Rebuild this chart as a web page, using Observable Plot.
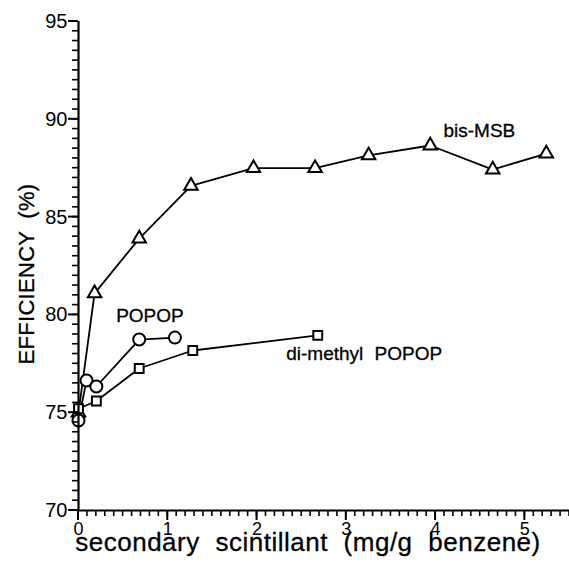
<!DOCTYPE html>
<html><head><meta charset="utf-8">
<script src="https://cdn.jsdelivr.net/npm/d3@7"></script>
<script src="https://cdn.jsdelivr.net/npm/@observablehq/plot@0.6"></script>
<style>
body{margin:0;background:#fff;color:#000}
#chart svg{font-family:"Liberation Sans",Arial,sans-serif;color:#000}
</style>
</head><body><div id="chart"></div>
<script>
const bisX = [0, 0.18, 0.68, 1.26, 1.96, 2.65, 3.25, 3.94, 4.64, 5.24];
const bisY = [75.0, 81.1, 83.9, 86.6, 87.5, 87.5, 88.15, 88.66, 87.43, 88.25];
const popX = [0, 0.09, 0.2, 0.68, 1.08];
const popY = [74.6, 76.65, 76.34, 78.74, 78.84];
const dmX = [0, 0.2, 0.68, 1.28, 2.68];
const dmY = [75.2, 75.6, 77.26, 78.18, 78.95];
const seriesLabels = ["bis-MSB", "POPOP", "di-methyl POPOP"];
const labelX = [4.49, 0.8, 3.2];
const labelY = [89.43, 79.97, 78.03];
const xMajor = [0, 1, 2, 3, 4, 5];
const yMajor = [70, 75, 80, 85, 90, 95];
const xTitle = "secondary scintillant (mg/g benzene)";
const yTitle = "EFFICIENCY (%)";

const mk = (xs, ys) => xs.map((x, i) => ({x, y: ys[i]}));
const bis = mk(bisX, bisY), pop = mk(popX, popY), dm = mk(dmX, dmY);
const labels = seriesLabels.map((t, i) => ({t, x: labelX[i], y: labelY[i]}));
const xMinor = d3.range(0, 56).map(i => i / 10);
const yMinor = d3.range(0, 51).map(i => 70 + i / 2);

const chart = Plot.plot({
  width: 569, height: 562,
  marginLeft: 78, marginTop: 21, marginBottom: 52, marginRight: 0,
  x: {domain: [0, 5.5]},
  y: {domain: [70, 95]},
  marks: [
    Plot.axisX(xMajor, {anchor: "bottom", tickSize: 0, tickPadding: 12, label: null, fontSize: 18, tickFormat: d => d}),
    Plot.axisY(yMajor, {anchor: "left", tickSize: 0, tickPadding: 11, label: null, fontSize: 20, tickFormat: d => d}),
    Plot.line(bis, {x: "x", y: "y", strokeWidth: 1.8}),
    Plot.line(pop, {x: "x", y: "y", strokeWidth: 1.8}),
    Plot.line(dm, {x: "x", y: "y", strokeWidth: 1.8}),
    Plot.dot(bis, {x: "x", y: "y", symbol: "triangle", r: 5, fill: "white", stroke: "black", strokeWidth: 2}),
    Plot.dot(pop, {x: "x", y: "y", symbol: "circle", r: 6, fill: "white", stroke: "black", strokeWidth: 2}),
    Plot.dot(dm, {x: "x", y: "y", symbol: "square", r: 5, fill: "white", stroke: "black", strokeWidth: 2}),
    Plot.text(labels, {x: "x", y: "y", text: "t", fontSize: 19, fill: "black", stroke: "black", strokeWidth: 0.3}),
    Plot.text([xTitle], {frameAnchor: "bottom", dy: 40, dx: -16, fontSize: 26, fill: "black", stroke: "black", strokeWidth: 0.3}),
    Plot.text([yTitle], {frameAnchor: "left", textAnchor: "middle", rotate: -90, dx: -52, dy: 8, fontSize: 22, fill: "black", stroke: "black", strokeWidth: 0.3}),
    Plot.ruleX([0], {strokeWidth: 2.2, stroke: "black"}),
    Plot.ruleY([70], {strokeWidth: 2.2, stroke: "black"})
  ]
});
document.getElementById("chart").append(chart);

// tick marks: filled rectangles placed through Plot's own scales
const sx = chart.scale("x"), sy = chart.scale("y");
const x0 = sx.apply(0), y0 = sy.apply(70);
const g = d3.select(chart).append("g").attr("fill", "#000");
g.selectAll("rect.xmin").data(xMinor).join("rect")
  .attr("x", d => sx.apply(d) - 0.8).attr("y", y0).attr("width", 1.6).attr("height", 6);
g.selectAll("rect.xmaj").data(xMajor).join("rect")
  .attr("x", d => sx.apply(d) - 1).attr("y", y0).attr("width", 2).attr("height", 10);
g.selectAll("rect.ymin").data(yMinor).join("rect")
  .attr("x", x0 - 6).attr("y", d => sy.apply(d) - 0.8).attr("width", 6).attr("height", 1.6);
g.selectAll("rect.ymaj").data(yMajor).join("rect")
  .attr("x", x0 - 10).attr("y", d => sy.apply(d) - 1).attr("width", 10).attr("height", 2);

const sel = d3.select(chart).selectAll("text");
sel.filter(function() { return this.textContent === xTitle; }).style("letter-spacing", "0.5px").style("word-spacing", "8px");
sel.filter(function() { return this.textContent === yTitle; }).style("letter-spacing", "0.3px").style("word-spacing", "6px");
sel.filter(function() { return this.textContent === seriesLabels[2]; }).style("word-spacing", "6px");
</script>
</body></html>
